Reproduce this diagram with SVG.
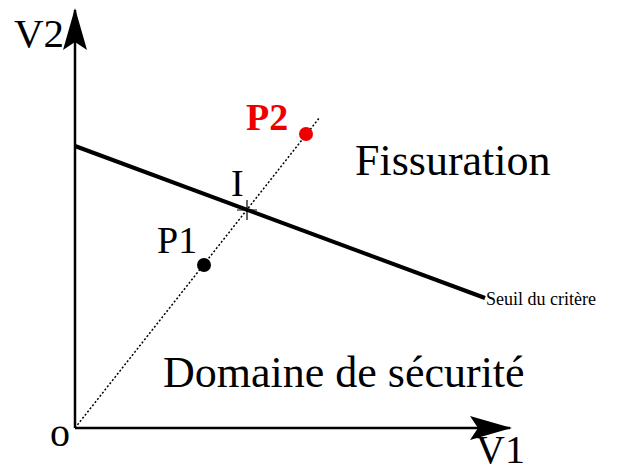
<svg xmlns="http://www.w3.org/2000/svg" width="619" height="473" viewBox="0 0 619 473">
<style>
text{font-family:"Liberation Serif","Times New Roman",serif;fill:#000}
.ax{stroke:#000;stroke-width:2.5;fill:none}
</style>
<defs>
<marker id="ah" viewBox="0 0 42 24" refX="40" refY="12" markerWidth="42" markerHeight="24" markerUnits="userSpaceOnUse" orient="auto">
<path d="M0,0 L42,12 L0,24 L8,12 Z" fill="#000"/>
</marker>
</defs>
<rect width="619" height="473" fill="#fff"/>
<g id="connectors">
<path class="ax" d="M75,428 V10" marker-end="url(#ah)"/>
<path class="ax" d="M75,428 H510" marker-end="url(#ah)"/>
<path d="M75,146 L485,298" stroke="#000" stroke-width="4" fill="none"/>
<path d="M75,428 L320,117" stroke="#000" stroke-width="1.5" stroke-dasharray="2,2" fill="none"/>
<path d="M237,210 H257 M247,200 V220" stroke="#000" stroke-width="1.2"/>
</g>
<g id="P1"><circle cx="204" cy="265" r="7" fill="#000"/><text x="157" y="253" font-size="38">P1</text></g>
<g id="P2"><circle cx="306" cy="134" r="7" fill="#e00"/><text x="246" y="130" font-size="38" font-weight="bold" style="fill:#e00">P2</text></g>
<g id="I"><text x="231" y="196" font-size="38">I</text></g>
<text x="14" y="47" font-size="41">V2</text>
<text x="476" y="463" font-size="40">V1</text>
<text x="50" y="446" font-size="40">o</text>
<text x="355" y="175" font-size="44">Fissuration</text>
<text x="163" y="387" font-size="44">Domaine de sécurité</text>
<text x="486" y="305" font-size="18">Seuil du critère</text>
</svg>
